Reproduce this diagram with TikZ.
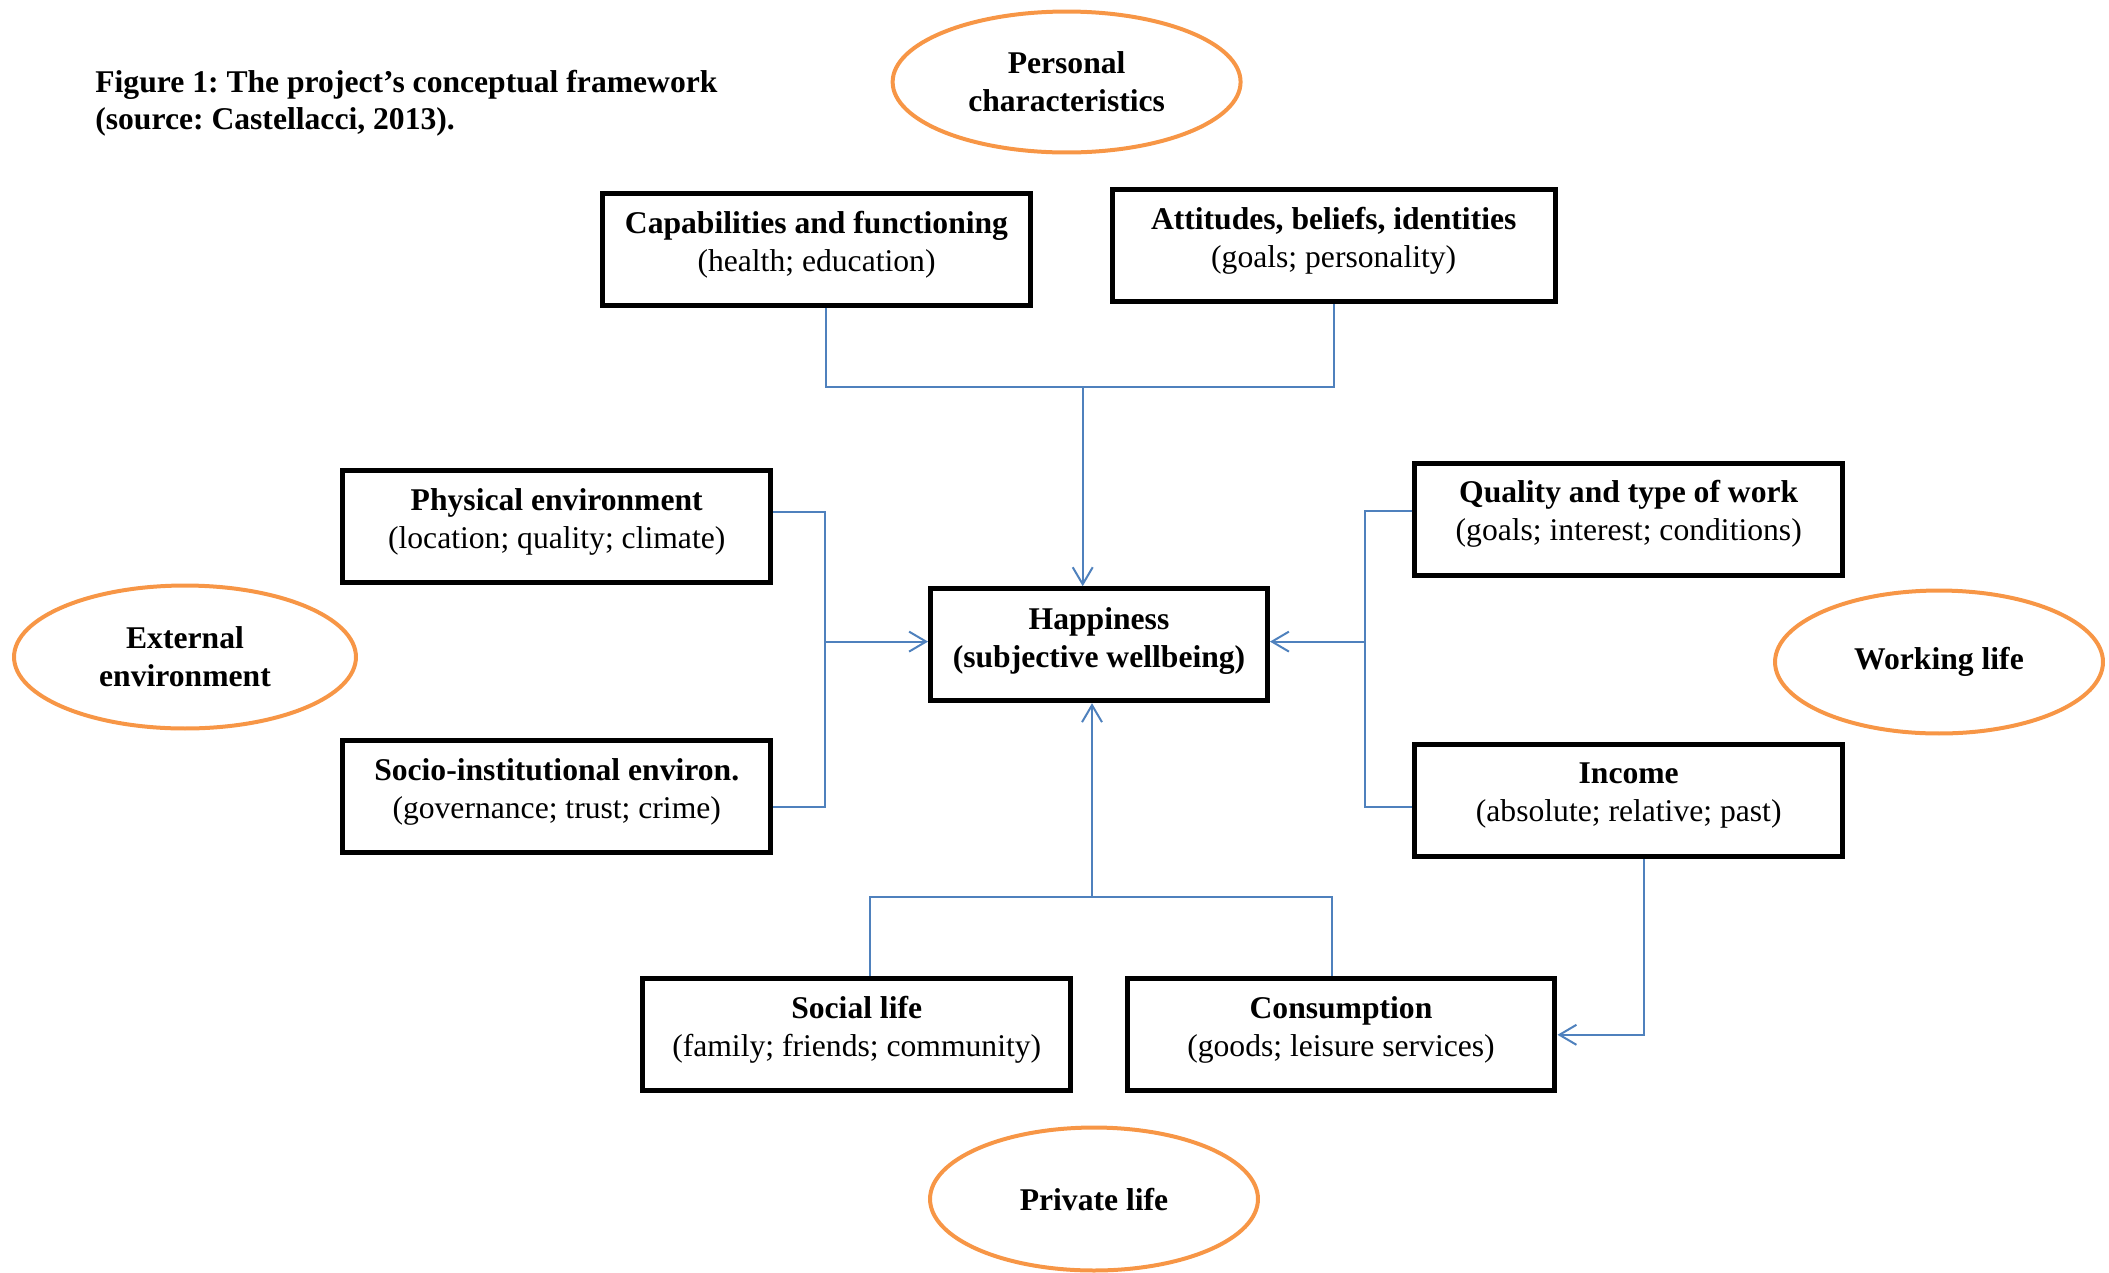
\documentclass[tikz,border=0pt]{standalone}
\usepackage{fontspec}
\setmainfont{Liberation Serif}
\usetikzlibrary{shapes.geometric,arrows.meta}
\definecolor{wborange}{HTML}{F79646}
\definecolor{wbblue}{HTML}{4F81BD}
\frenchspacing
\newcommand{\boxtext}[2]{\textbf{#1}\\#2\\[-12pt]\mbox{}}

\begin{document}
\begin{tikzpicture}[x=0.02cm,y=-0.02cm,
    font=\fontsize{18}{21.5}\selectfont,
    factorbox/.style={draw,line width=0.1cm,align=center,inner sep=0pt,
      minimum width=8.56cm,minimum height=2.24cm},
    lifearea/.style={draw=wborange,line width=0.08cm,ellipse,align=center,
      font=\fontsize{18}{21.5}\selectfont\bfseries,inner sep=0pt,
      minimum width=6.56cm,minimum height=2.86cm},
    link/.style={draw=wbblue,line width=0.04cm},
    arr/.style={link,-{Straight Barb[length=0.34cm,width=0.4cm]}}]
    \useasboundingbox (0,0) rectangle (2109,1272);

    \node [anchor=west,align=left,font=\fontsize{18}{21}\selectfont\bfseries,inner sep=0pt]
      (title) at (95,103) {Figure 1: The project’s conceptual framework\\(source: Castellacci, 2013).};

    % the four areas
    \node [lifearea,minimum width=6.96cm,minimum height=2.82cm] (pers) at (1066.6,82) {Personal\\characteristics};
    \node [lifearea,minimum width=6.84cm] (ext) at (185,657) {External\\environment};
    \node [lifearea] (work) at (1939,662) {Working life};
    \node [lifearea] (priv) at (1094,1199) {Private life};

    % the factors
    \node [factorbox] (cap) at (816.5,249.5) {\boxtext{Capabilities and functioning}{(health; education)}};
    \node [factorbox,minimum width=8.86cm] (att) at (1333.7,245.5) {\boxtext{Attitudes, beliefs, identities}{(goals; personality)}};
    \node [factorbox] (phy) at (556.7,526.7) {\boxtext{Physical environment}{(location; quality; climate)}};
    \node [factorbox] (soc) at (556.7,796.7) {\boxtext{Socio-institutional environ.}{(governance; trust; crime)}};
    \node [factorbox,minimum width=6.74cm,font=\fontsize{18}{21.5}\selectfont\bfseries] (hap) at (1099,644.7)
      {Happiness\\(subjective wellbeing)\\[-13pt]\mbox{}};
    \node [factorbox] (qual) at (1628.7,519) {\boxtext{Quality and type of work}{(goals; interest; conditions)}};
    \node [factorbox] (inc) at (1628.7,800.8) {\boxtext{Income}{(absolute; relative; past)}};
    \node [factorbox] (soci) at (856.7,1034.8) {\boxtext{Social life}{(family; friends; community)}};
    \node [factorbox] (cons) at (1341,1034.8) {\boxtext{Consumption}{(goods; leisure services)}};

    % junctions
    \coordinate (tj) at (1082.7,387.4);
    \coordinate (lj) at (824.5,641.6);
    \coordinate (rj) at (1365,641.6);
    \coordinate (bj) at (1092,897);

    \draw [link] ([xshift=1.9mm]cap.south) |- (tj) -| (att.south);
    \draw [arr] (tj) -- (tj |- hap.north);

    \draw [link] ([yshift=3mm]phy.east) -| (lj) |- ([yshift=-2mm]soc.east);
    \draw [arr] (lj) -- (lj -| hap.west);

    \draw [link] ([yshift=1.6mm]qual.west) -| (rj) |- ([yshift=-1.2mm]inc.west);
    \draw [arr] (rj) -- (rj -| hap.east);

    \draw [link] ([xshift=2.6mm]soci.north) |- (bj) -| ([xshift=-1.9mm]cons.north);
    \draw [arr] (bj) -- (bj |- hap.south);

    \draw [arr] ([xshift=3mm]inc.south) |- (cons.east);
\end{tikzpicture}
\end{document}
